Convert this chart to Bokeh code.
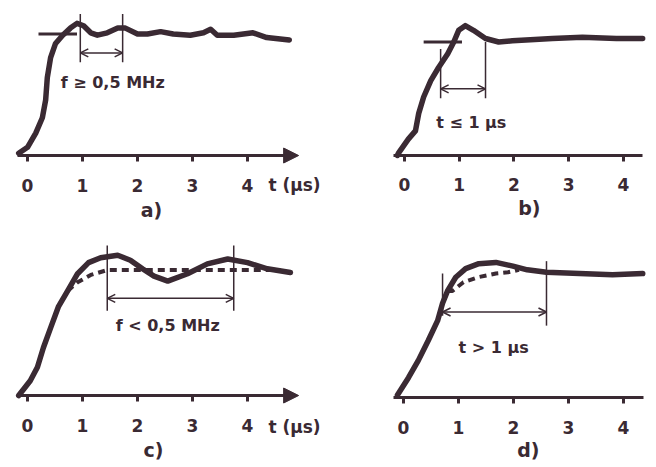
from bokeh.plotting import figure
from bokeh.models import Range1d, FixedTicker, Arrow, NormalHead, OpenHead, Label
from bokeh.layouts import gridplot
from bokeh.embed import file_html
from bokeh.resources import INLINE

# ---------------- data (t in µs, normalised response) ----------------
tick_values = [0, 1, 2, 3, 4]
tick_labels = ["0", "1", "2", "3", "4"]
panel_labels = ["a)", "b)", "c)", "d)"]
axis_title = "t (µs)"

# a) fast response with high-frequency ringing
a_t = [-0.16, 0.0, 0.15, 0.27, 0.33, 0.36, 0.42, 0.51, 0.64, 0.78, 0.9, 1.02, 1.15, 1.27,
       1.45, 1.64, 1.78, 2.0, 2.18, 2.42, 2.65, 2.96, 3.2, 3.33, 3.45, 3.75, 4.1, 4.35, 4.76]
a_v = [0.02, 0.07, 0.19, 0.32, 0.47, 0.66, 0.83, 0.95, 1.02, 1.08, 1.12, 1.10, 1.04, 1.02,
       1.04, 1.08, 1.08, 1.03, 1.03, 1.05, 1.03, 1.02, 1.04, 1.07, 1.02, 1.02, 1.04, 1.0, 0.98]
a_marks = [0.96, 1.73]
a_ref = [0.2, 0.9]
a_ref_level = 1.03
a_text = "f ≥ 0,5 MHz"

# b) fast settling
b_t = [-0.13, -0.11, 0.07, 0.2, 0.26, 0.35, 0.48, 0.62, 0.79, 0.9, 0.99, 1.11, 1.26, 1.48,
       1.72, 1.97, 2.3, 2.7, 3.25, 3.87, 4.35]
b_v = [0.0, 0.02, 0.14, 0.21, 0.36, 0.5, 0.64, 0.75, 0.87, 0.97, 1.07, 1.11, 1.07, 1.0,
       0.97, 0.98, 0.99, 1.0, 1.01, 1.0, 1.0]
b_marks = [0.66, 1.48]
b_ref = [0.35, 1.05]
b_ref_level = 0.97
b_text = "t ≤ 1 µs"

# c) slow ringing (solid) and ideal (dashed)
c_t = [-0.16, 0.05, 0.18, 0.29, 0.42, 0.56, 0.73, 0.91, 1.11, 1.33, 1.64, 1.87, 2.09, 2.3,
       2.55, 2.91, 3.27, 3.64, 4.0, 4.36, 4.78]
c_v = [0.0, 0.12, 0.23, 0.39, 0.55, 0.72, 0.85, 0.99, 1.08, 1.12, 1.14, 1.1, 1.03, 0.97,
       0.93, 0.99, 1.07, 1.11, 1.08, 1.03, 1.0]
c_dash_t = [0.73, 0.91, 1.15, 1.45, 1.75, 2.5, 3.5, 4.6]
c_dash_v = [0.85, 0.92, 0.98, 1.02, 1.02, 1.02, 1.02, 1.02]
c_marks = [1.45, 3.75]
c_text = "f < 0,5 MHz"

# d) slow settling (solid) and ideal (dashed)
d_t = [-0.11, 0.09, 0.27, 0.45, 0.62, 0.71, 0.8, 0.95, 1.13, 1.37, 1.68, 1.99, 2.25, 2.6,
       3.2, 3.8, 4.35]
d_v = [0.02, 0.16, 0.3, 0.46, 0.62, 0.76, 0.86, 0.97, 1.04, 1.08, 1.09, 1.06, 1.03, 1.01,
       1.0, 0.99, 1.0]
d_dash_t = [0.8, 0.89, 1.09, 1.35, 1.68, 1.9, 2.1]
d_dash_v = [0.86, 0.86, 0.93, 0.97, 1.0, 1.01, 1.03]
d_marks = [0.71, 2.6]
d_text = "t > 1 µs"

INK = "#3a2a33"
FONT = "DejaVu Sans"


def make_panel(w, h, xr, yr, bounds):
    p = figure(width=w, height=h, x_range=Range1d(*xr), y_range=Range1d(*yr),
               y_axis_type=None, output_backend="svg", toolbar_location=None,
               min_border=0)
    p.grid.visible = False
    p.outline_line_color = None
    p.background_fill_color = "white"
    p.border_fill_color = "white"
    ax = p.xaxis[0]
    ax.fixed_location = 0
    ax.bounds = bounds
    ax.ticker = FixedTicker(ticks=tick_values)
    ax.major_label_overrides = {v: s for v, s in zip(tick_values, tick_labels)}
    ax.axis_line_color = INK
    ax.axis_line_width = 3
    ax.major_tick_line_color = INK
    ax.major_tick_line_width = 3
    ax.major_tick_out = 6
    ax.major_tick_in = 0
    ax.minor_tick_line_color = None
    ax.major_label_text_font = FONT
    ax.major_label_text_font_size = "17px"
    ax.major_label_text_font_style = "bold"
    ax.major_label_text_color = INK
    ax.major_label_standoff = 17
    return p


def add_text(p, x, y, text, align="center", size="16px"):
    p.add_layout(Label(x=x, y=y, text=text, text_font=FONT, text_font_size=size,
                       text_font_style="bold", text_color=INK,
                       text_align=align, text_baseline="middle"))


def add_span_arrow(p, marks, lows, highs, level):
    p.segment(x0=marks, y0=lows, x1=marks, y1=highs, line_color=INK, line_width=1.5)
    p.add_layout(Arrow(start=OpenHead(size=8, line_color=INK, line_width=1.5),
                       end=OpenHead(size=8, line_color=INK, line_width=1.5),
                       x_start=marks[0], y_start=level, x_end=marks[1], y_end=level,
                       line_color=INK, line_width=1.5))


def add_axis_arrow(p, x_tip):
    p.add_layout(Arrow(end=NormalHead(size=15, fill_color=INK, line_color=INK),
                       x_start=x_tip - 0.4, y_start=0, x_end=x_tip, y_end=0,
                       line_color=INK, line_width=3))


# ---- a)
pa = make_panel(328, 233, (-0.491, 5.473), (-0.661, 1.314), (-0.18, 4.8))
pa.line(a_ref, [a_ref_level, a_ref_level], line_color=INK, line_width=3)
pa.line(a_t, a_v, line_color=INK, line_width=5.5, line_join="round", line_cap="round")
add_span_arrow(pa, a_marks, [0.79, 0.79], [1.2, 1.2], 0.87)
add_text(pa, 1.55, 0.62, a_text)
add_axis_arrow(pa, 4.93)
add_text(pa, 4.38, -0.246, axis_title, align="left", size="17px")
add_text(pa, 2.255, -0.466, panel_labels[0], size="19px")

# ---- b)
pb = make_panel(320, 233, (-1.388, 4.457), (-0.667, 1.325), (-0.2, 4.353))
pb.line(b_ref, [b_ref_level, b_ref_level], line_color=INK, line_width=3)
pb.line(b_t, b_v, line_color=INK, line_width=5.5, line_join="round", line_cap="round")
add_span_arrow(pb, b_marks, [0.49, 0.49], [0.91, 0.97], 0.57)
add_text(pb, 1.22, 0.28, b_text)
add_text(pb, 2.28, -0.453, panel_labels[1], size="19px")

# ---- c)
pc = make_panel(328, 233, (-0.491, 5.473), (-0.577, 1.317), (-0.18, 4.8))
pc.line(c_dash_t, c_dash_v, line_color=INK, line_width=4, line_dash="7 5")
pc.line(c_t, c_v, line_color=INK, line_width=5.5, line_join="round", line_cap="round")
add_span_arrow(pc, c_marks, [0.69, 0.69], [1.22, 1.22], 0.79)
add_text(pc, 2.55, 0.57, c_text)
add_axis_arrow(pc, 4.93)
add_text(pc, 4.38, -0.252, axis_title, align="left", size="17px")
add_text(pc, 2.29, -0.44, panel_labels[2], size="19px")

# ---- d)
pd_ = make_panel(320, 233, (-1.364, 4.455), (-0.556, 1.323), (-0.18, 4.364))
pd_.line(d_dash_t, d_dash_v, line_color=INK, line_width=4, line_dash="7 5")
pd_.line(d_t, d_v, line_color=INK, line_width=5.5, line_join="round", line_cap="round")
add_span_arrow(pd_, d_marks, [0.66, 0.58], [1.0, 1.1], 0.69)
add_text(pd_, 1.64, 0.4, d_text)
add_text(pd_, 2.27, -0.42, panel_labels[3], size="19px")

grid = gridplot([[pa, pb], [pc, pd_]], toolbar_location=None)

open("out.html", "w").write(file_html(grid, INLINE))
